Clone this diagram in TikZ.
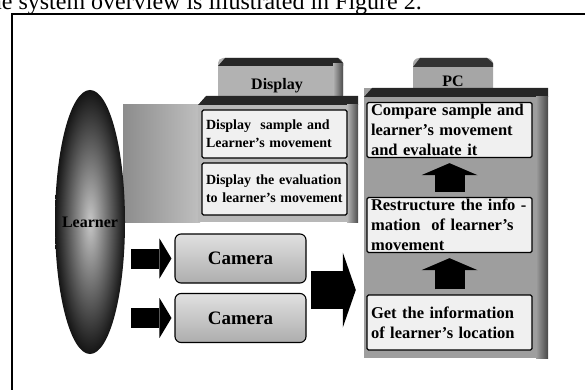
\documentclass[tikz,border=0pt]{standalone}
\usepackage{fontspec}
\setmainfont{Liberation Serif}
\usetikzlibrary{arrows.meta,shapes.geometric}

\tikzset{
  panel/.style={draw=black,line width=1.3pt,fill=black!6,rounded corners=1.5pt,
    inner xsep=4pt,inner ysep=0pt,align=left,font=\bfseries},
  dispbox/.style={panel,minimum width=145pt,text width=137pt,
    font=\fontsize{14}{18}\selectfont\bfseries},
  pcstep/.style={panel,minimum width=165pt,minimum height=55pt,text width=157pt,
    font=\fontsize{16.5}{20}\selectfont\bfseries},
  cambox/.style={draw=black,line width=1.1pt,rounded corners=6pt,top color=black!12,
    bottom color=black!32,minimum width=131pt,minimum height=49pt,
    font=\fontsize{19}{22}\selectfont\bfseries},
  tablabel/.style={font=\fontsize{16}{18}\selectfont\bfseries},
  thinarrow/.style={line width=20pt,shorten <=6pt,shorten >=3pt,
    -{Triangle[width=40pt,length=12pt,line width=0pt]}},
  uparrow/.style={line width=30pt,shorten <=5pt,shorten >=5pt,
    -{Triangle[width=56pt,length=12pt,line width=0pt]}},
  bigarrow/.style={line width=38pt,shorten >=8pt,
    -{Triangle[width=75pt,length=13pt,line width=0pt]}}
}

\begin{document}
\begin{tikzpicture}[x=1pt,y=-1pt]
  \useasboundingbox (0,0) rectangle (585,390);
  \clip (0,0) rectangle (585,390);
  % text line above the figure, cut at the top
  \node[anchor=base east,inner sep=0pt,font=\fontsize{24}{28}\selectfont] (caption)
    at (422,9.5) {The system overview is illustrated in Figure 2.};
  % frame
  \draw[line width=2pt] (12,395) -- (12,14);
  \draw[line width=1.2pt] (11,14) -- (590,14);

  % display unit
  \shade[left color=black!45,right color=black!25] (123,105) rectangle (200,222);
  \fill[black!30,rounded corners=5pt] (218,58) rectangle (343,100);
  \fill[black!85] (218,66) -- (225,58) -- (338,58) -- (343,63) -- (343,66) -- cycle;
  \shade[left color=black!30,right color=black!70] (333,64) rectangle (343,98);
  \fill[black!28] (198,105) rectangle (358,222);
  \fill[black!85] (198,105) -- (206,96) -- (358,96) -- (358,105) -- cycle;
  \shade[left color=black!28,right color=black!70] (347,105) rectangle (358,222);
  \node[tablabel] (disptab) at (277,86) {Display};
  \node[dispbox,minimum height=48pt] (show) at (274.5,134)
    {Display\ \ sample and\\Learner's movement};
  \node[dispbox,minimum height=52pt] (judge) at (274.5,189)
    {Display the evaluation\\to learner's movement};

  % pc unit
  \fill[black!35,rounded corners=6pt] (413,58) rectangle (493,95);
  \fill[black!80] (413,67) -- (420,58) -- (487,58) -- (493,63) -- (493,67) -- cycle;
  \node[fill=black!38,minimum width=184pt,minimum height=270pt,inner sep=0pt] (pcunit)
    at (456,223) {};
  \fill[black!85] (364,97) -- (372,88) -- (548,88) -- (548,97) -- cycle;
  \shade[left color=black!38,right color=black!72] (536,97) rectangle (548,358);
  \node[tablabel] (pctab) at (453,81) {PC};
  \node[pcstep] (compare) at (449.5,130)
    {Compare sample and\\learner's movement\\and evaluate it};
  \node[pcstep] (restruct) at (449.5,225)
    {Restructure the info -\\mation\ \ of learner's\\movement};
  \node[pcstep] (locate) at (449.5,322.5)
    {Get the information\\of learner's location};
  \draw[uparrow] (locate.north) -- (restruct.south);
  \draw[uparrow] (restruct.north) -- (compare.south);

  % learner and cameras
  \node[ellipse,minimum width=70pt,minimum height=264pt,inner sep=0pt,
    inner color=black!22,outer color=black!92,
    label={[tablabel]center:Learner}] (learner) at (90,222) {};
  \node[cambox] (cam1) at (240.5,258.5) {Camera};
  \node[cambox] (cam2) at (240.5,318) {Camera};
  \draw[thinarrow] (learner.east |- cam1) -- (cam1.west);
  \draw[thinarrow] (learner.east |- cam2) -- (cam2.west);
  \coordinate (camjoin) at (311,290);
  \draw[bigarrow] (camjoin) -- (camjoin -| pcunit.west);
\end{tikzpicture}
\end{document}
